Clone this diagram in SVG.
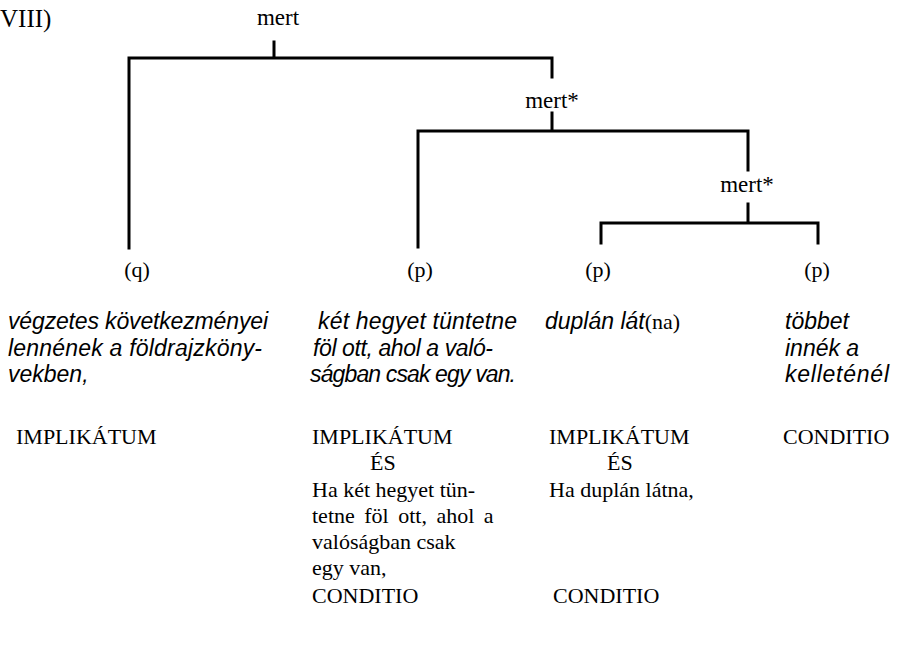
<svg xmlns="http://www.w3.org/2000/svg" width="905" height="648" viewBox="0 0 905 648">
<style>
.r{font-family:"Liberation Serif","Times New Roman",serif;font-size:22px;fill:#000}
.lab{font-family:"Liberation Serif","Times New Roman",serif;font-size:23px;fill:#000}
.it{font-family:"Liberation Sans",Arial,sans-serif;font-style:italic;font-size:23px;fill:#000}
.ln{stroke:#000;stroke-width:3;fill:none;stroke-linecap:square}
</style>
<rect width="905" height="648" fill="#fff"/>
<text class="r" x="0" y="27" style="font-size:25px">VIII)</text>
<g id="connectors">
<path class="ln" d="M274,42 V58 M129,248 V58 H552 V77"/>
<path class="ln" d="M552,113 V131 M418,247 V131 H748 V170"/>
<path class="ln" d="M748,204 V223 M601,243 V223 H818 V243"/>
</g>
<g id="n-mert1"><text class="lab" x="278" y="25" text-anchor="middle">mert</text></g>
<g id="n-mert2"><text class="lab" x="552" y="108" text-anchor="middle">mert*</text></g>
<g id="n-mert3"><text class="lab" x="747" y="192" text-anchor="middle">mert*</text></g>
<g id="n-q"><text class="r" x="137" y="277" text-anchor="middle">(q)</text></g>
<g id="n-p1"><text class="r" x="420" y="277" text-anchor="middle">(p)</text></g>
<g id="n-p2"><text class="r" x="598" y="277" text-anchor="middle">(p)</text></g>
<g id="n-p3"><text class="r" x="817" y="277" text-anchor="middle">(p)</text></g>
<g id="col1">
<text class="it" x="8" y="329" textLength="260" lengthAdjust="spacing">végzetes következményei</text>
<text class="it" x="8" y="356" textLength="254" lengthAdjust="spacing">lennének a földrajzköny-</text>
<text class="it" x="8" y="382">vekben,</text>
<text class="r" x="16" y="444">IMPLIKÁTUM</text>
</g>
<g id="col2">
<text class="it" x="318" y="329" textLength="199" lengthAdjust="spacing">két hegyet tüntetne</text>
<text class="it" x="313" y="356" textLength="180" lengthAdjust="spacing">föl ott, ahol a való-</text>
<text class="it" x="310" y="382" textLength="206" lengthAdjust="spacing">ságban csak egy van.</text>
<text class="r" x="312" y="444">IMPLIKÁTUM</text>
<text class="r" x="370" y="470">ÉS</text>
<text class="r" x="312" y="497">Ha két hegyet tün-</text>
<text class="r" x="312" y="523" word-spacing="4">tetne föl ott, ahol a</text>
<text class="r" x="312" y="549">valóságban csak</text>
<text class="r" x="312" y="575">egy van,</text>
<text class="r" x="312" y="603">CONDITIO</text>
</g>
<g id="col3">
<text class="it" x="545" y="329">duplán lát<tspan class="r" style="font-style:normal" font-size="23">(na)</tspan></text>
<text class="r" x="549" y="444">IMPLIKÁTUM</text>
<text class="r" x="607" y="470">ÉS</text>
<text class="r" x="549" y="497">Ha duplán látna,</text>
<text class="r" x="553" y="603">CONDITIO</text>
</g>
<g id="col4">
<text class="it" x="785" y="329">többet</text>
<text class="it" x="785" y="356">innék a</text>
<text class="it" x="785" y="382" textLength="104" lengthAdjust="spacing">kelleténél</text>
<text class="r" x="783" y="444">CONDITIO</text>
</g>
</svg>
